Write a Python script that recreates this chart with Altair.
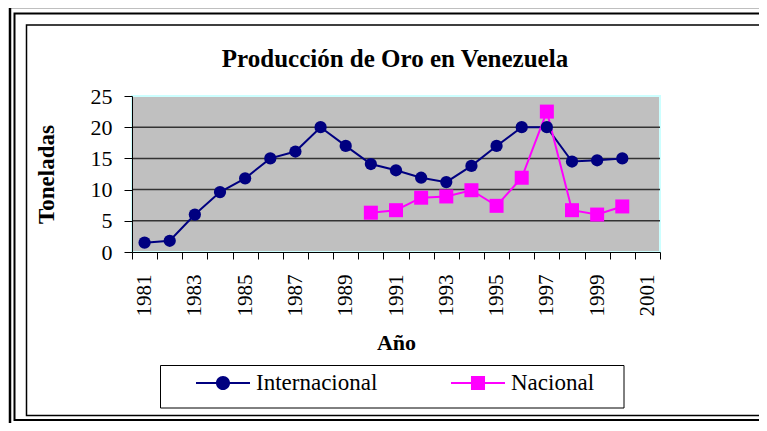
import altair as alt
import pandas as pd

# ---------------- data ----------------
years = list(range(1981, 2001))
internacional = [1.5, 1.8, 6.0, 9.6, 11.8, 15.0, 16.1, 20.0, 17.0, 14.1,
                 13.1, 11.9, 11.2, 13.8, 17.0, 20.0, 20.0, 14.5, 14.7, 15.0]
nacional_years = list(range(1990, 2001))
nacional = [6.3, 6.7, 8.7, 8.9, 9.9, 7.4, 11.9, 22.5, 6.7, 6.0, 7.3]
series = ["Internacional", "Nacional"]
colors = ["#000080", "#FF00FF"]
y_ticks = [0, 5, 10, 15, 20, 25]
grid_values = [5, 10, 15, 20]
x_label_years = list(range(1981, 2002, 2))
x_tick_bounds = [y - 0.5 for y in range(1981, 2003)]
title_text = "Producción de Oro en Venezuela"

rows = [{"anio": y, "serie": series[0], "ton": v} for y, v in zip(years, internacional)]
rows += [{"anio": y, "serie": series[1], "ton": v} for y, v in zip(nacional_years, nacional)]
df = pd.DataFrame(rows)

W, H = 528, 156
FONT = "Liberation Serif, Times New Roman, serif"

xscale = alt.Scale(domain=[1980.5, 2001.5], nice=False, zero=False)
yscale = alt.Scale(domain=[0, 25], nice=False, zero=True)
cscale = alt.Scale(domain=series, range=colors)

# custom legend symbols: line + marker
path_circle = ("M-1,-0.04H1V0.04H-1Z "
               "M-0.26,0A0.26,0.26,0,1,1,0.26,0A0.26,0.26,0,1,1,-0.26,0Z")
path_square = "M-1,-0.04H1V0.04H-1Z M-0.26,-0.26H0.26V0.26H-0.26Z"


def deco(x, x2, y, y2, stroke, sw, fill="transparent"):
    return alt.Chart(alt.Data(values=[{}])).mark_rect(
        fill=fill, stroke=stroke, strokeWidth=sw
    ).encode(x=alt.value(x), x2=alt.value(x2), y=alt.value(y), y2=alt.value(y2))


frame_outer = deco(-122, 668, -89, 331, "black", 2.5)
frame_inner = deco(-117.5, 658, -82.5, 324, "black", 2)
box = deco(-105.5, 628, -71, 319.5, "black", 1.5)
legend_box = deco(28.5, 492, 269.5, 312, "black", 1, fill="white")
plot_bg = deco(0, W, 0, H, "#CCFFFF", 2, fill="#C0C0C0")

title = alt.Chart(alt.Data(values=[{"t": title_text}])).mark_text(
    font=FONT, fontSize=25, fontWeight="bold", color="black",
    align="center", baseline="alphabetic",
).encode(text="t:N", x=alt.value(W / 2 - 1), y=alt.value(-29))

y_axis = alt.Axis(
    values=y_ticks, orient="left", grid=False, tickSize=8, tickColor="black",
    domainColor="black", labelFont=FONT, labelFontSize=22, labelColor="black",
    labelPadding=12, title="Toneladas", titleFont=FONT, titleFontSize=23,
    titleFontWeight="bold", titleColor="black", titleAngle=270, titleX=-86,
    titleY=78, titleAlign="center", titleBaseline="middle", zindex=1,
)

grid = alt.Chart(pd.DataFrame({"g": grid_values})).mark_rule(
    color="#333333", strokeWidth=1.5
).encode(y=alt.Y("g:Q", scale=yscale, axis=y_axis))

label_axis = alt.Axis(
    values=x_label_years, format="d", orient="bottom", ticks=False, tickSize=0,
    domain=False, grid=False, labelAngle=270, labelFont=FONT, labelFontSize=21,
    labelColor="black", labelPadding=22, labelOverlap=False, labelFlush=False,
    labelBound=False, title="Año", titleFont=FONT, titleFontSize=22,
    titleFontWeight="bold", titleColor="black", titleX=264, titleY=97,
    titleAlign="center", titleBaseline="alphabetic", zindex=1,
)

tick_axis = alt.Axis(
    values=x_tick_bounds, orient="bottom", labels=False, ticks=True, tickSize=7,
    tickColor="black", domainColor="black", grid=False, title=None, zindex=1,
)

base = alt.Chart(df)

lines = base.mark_line(strokeWidth=2).encode(
    x=alt.X("anio:Q", scale=xscale, axis=label_axis),
    y=alt.Y("ton:Q", scale=yscale, axis=None),
    color=alt.Color("serie:N", scale=cscale, legend=None),
)

pts_int = base.transform_filter(alt.datum.serie == series[0]).mark_point(
    shape="circle", size=150, filled=True, opacity=1, color=colors[0]
).encode(
    x=alt.X("anio:Q", scale=xscale, axis=None),
    y=alt.Y("ton:Q", scale=yscale, axis=None),
)

pts_nac = base.transform_filter(alt.datum.serie == series[1]).mark_point(
    shape="square", size=196, filled=True, opacity=1, color=colors[1]
).encode(
    x=alt.X("anio:Q", scale=xscale, axis=None),
    y=alt.Y("ton:Q", scale=yscale, axis=None),
)

leg = alt.Legend(
    orient="none", legendX=64, legendY=260, direction="horizontal", columns=2,
    title=None, padding=0, labelFont=FONT, labelFontSize=23, labelColor="black",
    labelOffset=6, columnPadding=73, symbolOffset=0, symbolSize=2916,
    symbolStrokeWidth=0, labelBaseline="middle", labelLimit=0,
)

legend_layer = base.transform_filter("false").mark_point(
    filled=True, opacity=1, size=2916
).encode(
    x=alt.X("anio:Q", scale=xscale, axis=tick_axis),
    y=alt.Y("ton:Q", scale=yscale, axis=None),
    color=alt.Color("serie:N", scale=cscale, legend=leg),
    shape=alt.Shape("serie:N", scale=alt.Scale(domain=series, range=[path_circle, path_square]), legend=leg),
)

chart = alt.layer(
    frame_outer, frame_inner, box, legend_box, plot_bg, grid, lines, pts_int,
    pts_nac, legend_layer, title
).resolve_scale(
    color="independent", shape="independent"
).resolve_axis(
    x="independent", y="independent"
).properties(
    width=W, height=H,
    autosize=alt.AutoSizeParams(type="none"),
    padding={"left": 124, "top": 88, "right": 99, "bottom": 171},
).configure_view(
    stroke=None
).configure(background="white")

chart.save("out.html", embed_options={"renderer": "svg", "actions": False})
